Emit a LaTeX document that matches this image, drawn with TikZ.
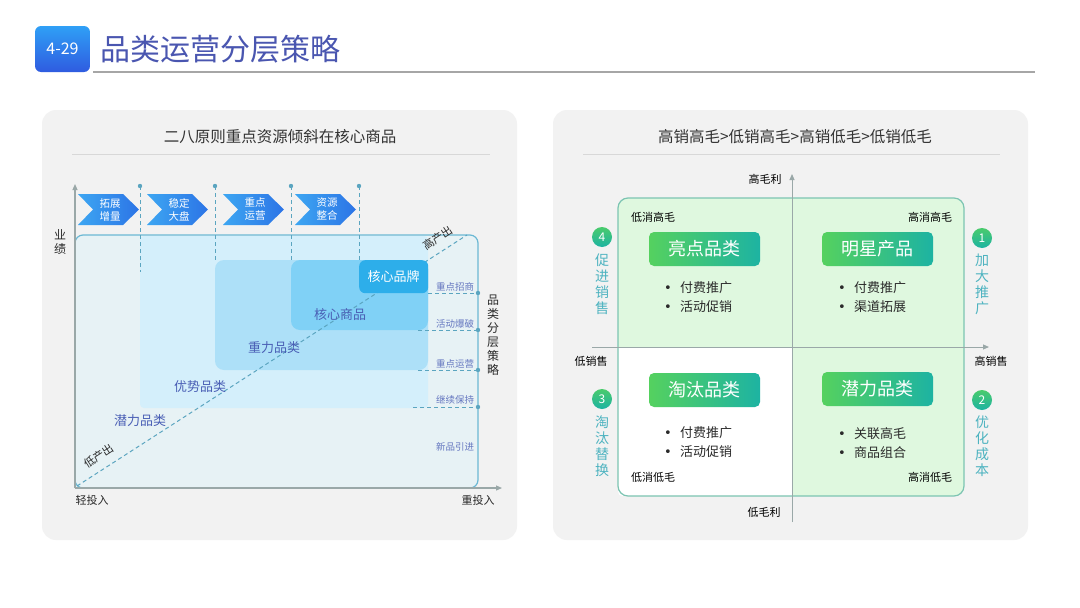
\documentclass[tikz,border=0pt]{standalone}
\usepackage{fontspec}
\setmainfont{Noto Sans CJK SC}
\newfontfamily\dvs{DejaVu Sans}
\usetikzlibrary{arrows.meta,shapes.geometric}
\definecolor{panelbg}{HTML}{F2F2F2}
\definecolor{sepcol}{HTML}{D8D8D8}
\definecolor{titcol}{HTML}{4A56B0}
\definecolor{badgeA}{HTML}{2FA0F6}
\definecolor{badgeB}{HTML}{2F5BE0}
\definecolor{boxline}{HTML}{6BB8D4}
\definecolor{rA}{HTML}{E7F2F5}
\definecolor{rB}{HTML}{D4EFFB}
\definecolor{rC}{HTML}{ADE0F8}
\definecolor{rD}{HTML}{80D1F6}
\definecolor{rE}{HTML}{2DAEEA}
\definecolor{dashcol}{HTML}{5BA5C0}
\definecolor{lblue}{HTML}{4A5FB5}
\definecolor{chevL}{HTML}{3DA6F2}
\definecolor{chevR}{HTML}{2C74E6}
\definecolor{quadfill}{HTML}{DFF8DF}
\definecolor{quadline}{HTML}{7CC4B2}
\definecolor{axcol}{HTML}{9AA8A8}
\definecolor{grnA}{HTML}{55D15F}
\definecolor{grnB}{HTML}{1DB3A2}
\definecolor{tealtxt}{HTML}{4DB3C0}
\definecolor{darktxt}{HTML}{2A2A2A}
\newcommand{\fsz}[2]{\fontsize{#1pt}{#2pt}\selectfont}
\newcommand{\mychev}[3]{%
  \shade[left color=chevL, right color=chevR] (#1,194) -- ++(45,0) -- ++(16,15.5) -- ++(-16,15.5) -- ++(-45,0) -- ++(15,-15.5) -- cycle;
  \node[chevtext] (#3) at (#1+32,209.5) {#2};
}
\newcommand{\bul}[1]{\makebox[16pt][l]{\dvs •}#1}
\begin{document}
\begin{tikzpicture}[x=1pt,y=-1pt,
  txt/.style={inner sep=0pt, text=darktxt},
  ptitle/.style={txt, font=\fsz{15.5}{18}, text=black!80},
  sep/.style={draw=sepcol, line width=0.8pt},
  chevtext/.style={inner sep=0pt, text=white, align=center, font=\fsz{10.5}{13}},
  dsh/.style={draw=dashcol, line width=1pt, dash pattern=on 4pt off 3pt},
  axis/.style={draw=axcol, line width=1.2pt, -{Triangle[length=6pt,width=5pt]}},
  lvl/.style={txt, text=lblue, font=\fsz{13}{15}},
  sidelbl/.style={txt, text=lblue!85, font=\fsz{9.5}{11}},
  qlbl/.style={txt, text=black, font=\fsz{11}{13}},
  gbox/.style={left color=grnA, right color=grnB, rounded corners=5, minimum width=111, minimum height=34, inner sep=0pt, text=white, font=\fsz{18}{20}},
  bl/.style={txt, anchor=west, align=left, font=\fsz{13}{19}, text=darktxt},
  numc/.style={circle, top color=grnA!80!grnB, bottom color=grnB, minimum size=20, inner sep=0pt, text=white, font=\fsz{12}{14}},
  vlbl/.style={txt, text=tealtxt, align=center, font=\fsz{14}{16}}
]
\useasboundingbox[fill=white] (0,0) rectangle (1080,608);

% ---------- header ----------
\shade[rounded corners=6, top color=badgeA, bottom color=badgeB] (35,26) rectangle (90,72);
\node[txt, text=white, font=\fsz{16}{18}] (badge) at (62.5,49) {4-29};
\node[txt, anchor=west, text=titcol, font=\fsz{30}{34}] (title) at (100,49) {品类运营分层策略};
\coordinate (hl1) at (93,72);
\coordinate (hl2) at (1035,72);
\draw[draw=black!35, line width=1.8pt] (hl1) -- (hl2);

% ---------- left panel ----------
\fill[panelbg, rounded corners=14] (42,110) rectangle (517,540);
\node[ptitle] (ltitle) at (280,137) {二八原则重点资源倾斜在核心商品};
\coordinate (ls1) at (72,154);
\coordinate (ls2) at (490,154);
\draw[sep] (ls1) -- (ls2);

% nested regions
\fill[rA, rounded corners=8] (75,235) rectangle (478,488);
\fill[rB, rounded corners=4] (140,236) rectangle (428,408);
\fill[rC, rounded corners=9] (215,260) rectangle (428,370);
\fill[rD, rounded corners=9] (291,260) rectangle (428,330);
\draw[boxline, line width=1.2pt, rounded corners=8] (75,235) rectangle (478,488);

% vertical dashed markers
\foreach \i/\x/\yb in {1/140/272, 2/215/260, 3/291/260, 4/359/260}{
  \coordinate (vt\i) at (\x,186);
  \coordinate (vb\i) at (\x,\yb);
  \draw[dsh] (vt\i) -- (vb\i);
  \fill[dashcol] (vt\i) circle (2.2);
}

% chevrons
\mychev{78}{拓展\\增量}{c1}
\mychev{147}{稳定\\大盘}{c2}
\mychev{223}{重点\\运营}{c3}
\mychev{295}{资源\\整合}{c4}

% diagonal
\coordinate (lo) at (77,486);
\coordinate (hi) at (467,235);
\draw[dsh] (lo) -- (hi);

% core brand box
\node[fill=rE, rounded corners=6, minimum width=69, minimum height=33, anchor=north west, inner sep=0pt, text=white, font=\fsz{13}{15}] (kb) at (359,260) {核心品牌};

% horizontal dashed + side labels
\foreach \i/\xa/\y in {1/428/293, 2/418/330, 3/418/370, 4/413/407}{
  \coordinate (ha\i) at (\xa,\y);
  \coordinate (hb\i) at (478,\y);
  \draw[dsh] (ha\i) -- (hb\i);
  \fill[dashcol] (hb\i) circle (2.2);
}
\node[sidelbl] (s1) at (455,287) {重点招商};
\node[sidelbl] (s2) at (455,324) {活动爆破};
\node[sidelbl] (s3) at (455,364) {重点运营};
\node[sidelbl] (s4) at (455,400) {继续保持};
\node[sidelbl] (s5) at (455,447) {新品引进};

% level labels
\node[lvl] (l1) at (140,421) {潜力品类};
\node[lvl] (l2) at (200,387) {优势品类};
\node[lvl] (l3) at (274,348) {重力品类};
\node[lvl] (l4) at (340,315) {核心商品};
\node[txt, rotate=33, font=\fsz{11}{13}] (lowout) at (99,456) {低产出};
\node[txt, rotate=33, font=\fsz{11}{13}] (highout) at (438,238) {高产出};

% axes
\coordinate (O) at (75,488);
\coordinate (ytop) at (75,184);
\coordinate (xend) at (502,488);
\draw[axis] (O) -- (ytop);
\draw[axis] (O) -- (xend);
\node[txt, align=center, font=\fsz{12}{14}] (yl) at (60,242) {业\\绩};
\node[txt, font=\fsz{11}{13}] (xl1) at (92,500) {轻投入};
\node[txt, font=\fsz{11}{13}] (xl2) at (478,500) {重投入};
\node[txt, align=center, font=\fsz{12}{14}] (rl) at (493,335) {品\\类\\分\\层\\策\\略};

% ---------- right panel ----------
\fill[panelbg, rounded corners=14] (553,110) rectangle (1028,540);
\node[ptitle] (rtitle) at (795,137) {高销高毛>低销高毛>高销低毛>低销低毛};
\coordinate (rs1) at (583,154);
\coordinate (rs2) at (1000,154);
\draw[sep] (rs1) -- (rs2);

\fill[quadfill, rounded corners=10] (618,198) rectangle (964,496);
\fill[white] (618,347) -- (792,347) -- (792,496) -- (628,496) .. controls (618,496) .. (618,486) -- cycle;
\draw[quadline, line width=1.2pt, rounded corners=10] (618,198) rectangle (964,496);

\coordinate (vb) at (792,522);
\coordinate (vt) at (792,174);
\coordinate (hlft) at (592,347);
\coordinate (hrt) at (989,347);
\draw[axis, line width=1pt] (vb) -- (vt);
\draw[axis, line width=1pt] (hlft) -- (hrt);
\node[qlbl] (ax1) at (765,179) {高毛利};
\node[qlbl] (ax2) at (764,512) {低毛利};
\node[qlbl] (ax3) at (591,361) {低销售};
\node[qlbl] (ax4) at (991,361) {高销售};

\node[qlbl] (q1) at (653,217) {低消高毛};
\node[qlbl] (q2) at (930,217) {高消高毛};
\node[qlbl] (q3) at (653,477) {低消低毛};
\node[qlbl] (q4) at (930,477) {高消低毛};

\node[gbox] (g1) at (704.5,249) {亮点品类};
\node[gbox] (g2) at (877.5,249) {明星产品};
\node[gbox] (g3) at (704.5,390) {淘汰品类};
\node[gbox] (g4) at (877.5,389) {潜力品类};

\node[bl] (b1) at (664,297.5) {\bul{付费推广}\\\bul{活动促销}};
\node[bl] (b2) at (838,297.5) {\bul{付费推广}\\\bul{渠道拓展}};
\node[bl] (b3) at (664,442) {\bul{付费推广}\\\bul{活动促销}};
\node[bl] (b4) at (838,443) {\bul{关联高毛}\\\bul{商品组合}};

\node[numc] (n4) at (602,237) {4};
\node[vlbl] (t4) at (602,284) {促\\进\\销\\售};
\node[numc] (n1) at (982,238) {1};
\node[vlbl] (t1) at (982,284) {加\\大\\推\\广};
\node[numc] (n3) at (602,399) {3};
\node[vlbl] (t3) at (602,446) {淘\\汰\\替\\换};
\node[numc] (n2) at (982,400) {2};
\node[vlbl] (t2) at (982,446) {优\\化\\成\\本};
\end{tikzpicture}
\end{document}
